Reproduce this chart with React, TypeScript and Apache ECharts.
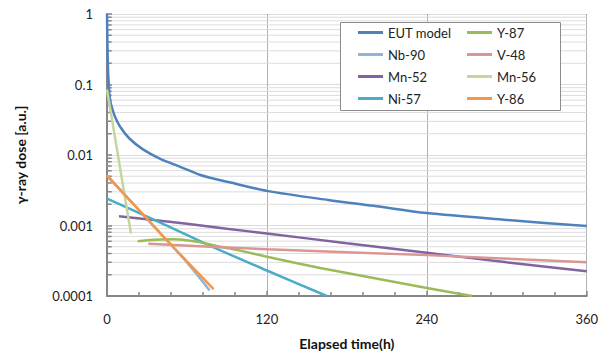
import React, { useEffect, useRef } from "react";
import * as echarts from "echarts";

const xTicks = [0, 120, 240, 360];
const yTickLabels = ["0.0001", "0.001", "0.01", "0.1", "1"];

const eutModel: [number, number][] = [
  [0, 1], [0.3, 0.4], [0.7, 0.18], [1.2, 0.11], [2.2, 0.062], [4, 0.045], [6, 0.035],
  [10, 0.025], [17, 0.017], [27, 0.012], [40, 0.0088], [55, 0.0068], [70, 0.0052],
  [92, 0.0041], [120, 0.0031], [166, 0.0023], [200, 0.0019], [240, 0.0015],
  [300, 0.0012], [360, 0.00098],
];
const y87: [number, number][] = [
  [23, 0.0006], [35, 0.00063], [50, 0.00064], [60, 0.00062], [70, 0.00058], [85, 0.0005],
  [100, 0.00044], [120, 0.00036], [160, 0.00025], [200, 0.00018], [240, 0.00013], [274, 0.0001],
];
const nb90: [number, number][] = [
  [0, 0.0052], [20, 0.002], [40, 0.00077], [60, 0.0003], [77, 0.00012],
];
const v48: [number, number][] = [
  [31, 0.00055], [120, 0.00046], [240, 0.00038], [360, 0.0003],
];
const mn52: [number, number][] = [
  [9, 0.00135], [30, 0.00123], [60, 0.00106], [90, 0.0009], [120, 0.00077],
  [180, 0.00056], [240, 0.00041], [300, 0.0003], [360, 0.000225],
];
const mn56: [number, number][] = [
  [0, 0.085], [6, 0.0178], [12, 0.0037], [18, 0.00077],
];
const ni57: [number, number][] = [
  [0, 0.0024], [40, 0.0011], [80, 0.00049], [120, 0.00023], [165, 0.0001],
];
const y86: [number, number][] = [
  [0, 0.005], [20, 0.002], [40, 0.00078], [60, 0.00031], [80, 0.000125],
];

const minorValues: number[] = [];
[0.0001, 0.001, 0.01, 0.1].forEach((d) => {
  for (let k = 2; k <= 9; k++) minorValues.push(Number((k * d).toPrecision(3)));
});

const FONT = "Lato";

export default function App() {
  const ref = useRef<HTMLDivElement>(null);
  useEffect(() => {
    document.body.style.margin = "0";
    const chart = echarts.init(ref.current!, null, { renderer: "svg" });
    const line = (name: string, data: [number, number][], color: string) => ({
      name,
      type: "line",
      data,
      symbol: "none",
      smooth: 0.3,
      lineStyle: { color, width: 2.5 },
      itemStyle: { color },
      z: 4,
    });
    const gridSeries = minorValues.map((v, i) => ({
      name: "grid" + i,
      type: "line",
      symbol: "none",
      data: [[0, v], [360, v]],
      lineStyle: { color: "#dcdcdc", width: 1 },
      z: 2,
    }));
    const tickSeries = minorValues.map((v, i) => ({
      name: "tick" + i,
      type: "line",
      symbol: "none",
      data: [[0, v], [3.5, v]],
      lineStyle: { color: "#868686", width: 1.5 },
      z: 3,
    }));
    const legendCommon = {
      orient: "vertical",
      top: 20,
      itemWidth: 25,
      itemHeight: 3,
      itemGap: 7,
      icon: "rect",
      textStyle: { fontFamily: FONT, fontSize: 13, color: "#222", lineHeight: 15 },
      z: 6,
    };
    const borderAxis = {
      axisLine: { show: true, lineStyle: { color: "#8c8c8c", width: 1 } },
      axisTick: { show: false },
      axisLabel: { show: false },
      splitLine: { show: false },
    };
    const option: any = {
      animation: false,
      grid: { left: 107, top: 14, right: 12, bottom: 57 },
      xAxis: [
        {
          type: "value",
          min: 0,
          max: 360,
          interval: 120,
          name: "Elapsed time(h)",
          nameLocation: "middle",
          nameGap: 40,
          nameTextStyle: { fontFamily: FONT, fontWeight: "bold", fontSize: 14, color: "#111" },
          axisLine: { show: true, lineStyle: { color: "#868686", width: 2 } },
          axisTick: { show: true, inside: true, length: 5, lineStyle: { color: "#868686", width: 1.5 } },
          minorTick: { show: true, splitNumber: 5, length: 4, lineStyle: { color: "#868686", width: 1.5 } },
          axisLabel: {
            margin: 16,
            fontFamily: FONT,
            fontSize: 13,
            color: "#222",
            formatter: (v: number) => (xTicks.includes(v) ? String(v) : ""),
          },
          splitLine: { show: true, lineStyle: { color: "#b0b0b0", width: 1 } },
          z: 1,
        },
        { type: "value", position: "top", min: 0, max: 360, interval: 120, ...borderAxis },
      ],
      yAxis: [
        {
          type: "log",
          logBase: 10,
          min: 0.0001,
          max: 1,
          name: "γ-ray dose [a.u.]",
          nameLocation: "middle",
          nameGap: 80,
          nameTextStyle: { fontFamily: FONT, fontWeight: "bold", fontSize: 14, color: "#111" },
          axisLine: { show: true, lineStyle: { color: "#868686", width: 2 } },
          axisTick: { show: true, inside: true, length: 5, lineStyle: { color: "#868686", width: 1.5 } },
          axisLabel: {
            margin: 14,
            fontFamily: FONT,
            fontSize: 13,
            color: "#222",
            formatter: (v: number) =>
              yTickLabels.find((t) => Math.abs(Number(t) - v) / v < 1e-6) ?? "",
          },
          splitLine: { show: true, lineStyle: { color: "#dcdcdc", width: 1 } },
          z: 1,
        },
        { type: "log", logBase: 10, position: "right", min: 0.0001, max: 1, ...borderAxis },
      ],
      legend: [
        { ...legendCommon, left: 353, data: ["EUT model", "Nb-90", "Mn-52", "Ni-57"] },
        { ...legendCommon, left: 462, data: ["Y-87", "V-48", "Mn-56", "Y-86"] },
      ],
      graphic: [
        {
          type: "rect",
          shape: { x: 340.5, y: 22.5, width: 220, height: 88 },
          style: { fill: "#fff", stroke: "#8c8c8c", lineWidth: 1 },
          z: 5,
        },
      ],
      series: [
        ...gridSeries,
        ...tickSeries,
        line("EUT model", eutModel, "#4F81BD"),
        line("Nb-90", nb90, "#95B3D7"),
        line("Mn-52", mn52, "#8064A2"),
        line("Ni-57", ni57, "#4BACC6"),
        line("Y-87", y87, "#9BBB59"),
        line("V-48", v48, "#D99694"),
        line("Mn-56", mn56, "#C3D69B"),
        line("Y-86", y86, "#F79646"),
      ],
    };
    chart.setOption(option);
    return () => chart.dispose();
  }, []);
  return (
    <div
      ref={ref}
      style={{ position: "fixed", left: 0, top: 0, width: 601, height: 355, background: "#fff" }}
    />
  );
}
